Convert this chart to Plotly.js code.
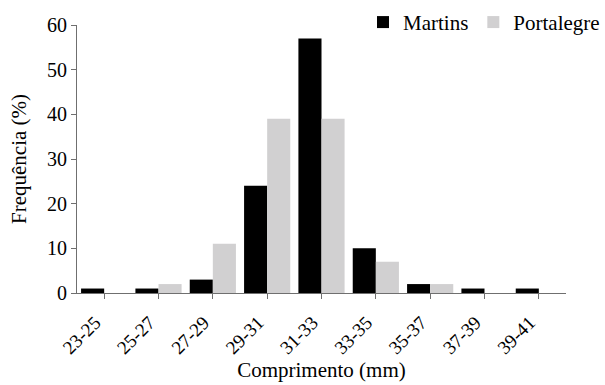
<!DOCTYPE html>
<html>
<head>
<meta charset="utf-8">
<script src="https://cdn.plot.ly/plotly-3.0.1.min.js"></script>
<style>html,body{margin:0;padding:0;background:#fff;}#chart{width:605px;height:385px;}</style>
</head>
<body>
<div id="chart"></div>
<script>
const categories = ["23-25","25-27","27-29","29-31","31-33","33-35","35-37","37-39","39-41"];
const martins = [1,1,3,24,57,10,2,1,1];
const portalegre = [0,2,11,39,39,7,2,0,0];
const yTicks = [0,10,20,30,40,50,60];

const font = {family: "'Liberation Serif', 'Times New Roman', serif", color: "#000"};
const axisColor = "#6f6f6f";

const traces = [
  {type: "bar", name: "Martins", x: categories, y: martins, marker: {color: "#000000"}},
  {type: "bar", name: "Portalegre", x: categories, y: portalegre, marker: {color: "#d1d0d1"}}
];

const layout = {
  width: 605, height: 385,
  margin: {l: 77, r: 39, t: 25, b: 92, autoexpand: false},
  paper_bgcolor: "#fff", plot_bgcolor: "#fff",
  font: Object.assign({size: 20}, font),
  barmode: "group", bargap: 0.15, bargroupgap: 0,
  showlegend: true,
  legend: {orientation: "h", xref: "container", yref: "container",
           x: 1.0, xanchor: "right", y: 0.995, yanchor: "top",
           font: Object.assign({size: 21}, font), bgcolor: "rgba(0,0,0,0)",
           itemwidth: 30, tracegroupgap: 0},
  xaxis: {
    type: "category", showgrid: false, zeroline: false,
    showline: true, linecolor: axisColor, linewidth: 1,
    ticks: "outside", ticklen: 5, tickcolor: axisColor,
    tickangle: -45, tickfont: Object.assign({size: 19}, font),
    ticklabelshift: -9, ticklabelstandoff: 5,
    title: {text: "Comprimento (mm)", font: Object.assign({size: 21}, font), standoff: 4}
  },
  yaxis: {
    range: [0, 60], tickvals: yTicks, showgrid: false, zeroline: false,
    showline: true, linecolor: axisColor, linewidth: 1,
    ticks: "outside", ticklen: 5, tickcolor: axisColor,
    tickfont: Object.assign({size: 20}, font),
    title: {text: "Frequência (%)", font: Object.assign({size: 21}, font), standoff: 14}
  },
  shapes: [
    {type: "line", xref: "paper", yref: "y", ysizemode: "pixel", yanchor: 0,
     x0: 1, x1: 1, y0: 0, y1: -5, line: {color: axisColor, width: 1}}
  ]
};

Plotly.newPlot("chart", traces, layout, {displayModeBar: false, staticPlot: true});
</script>
</body>
</html>
